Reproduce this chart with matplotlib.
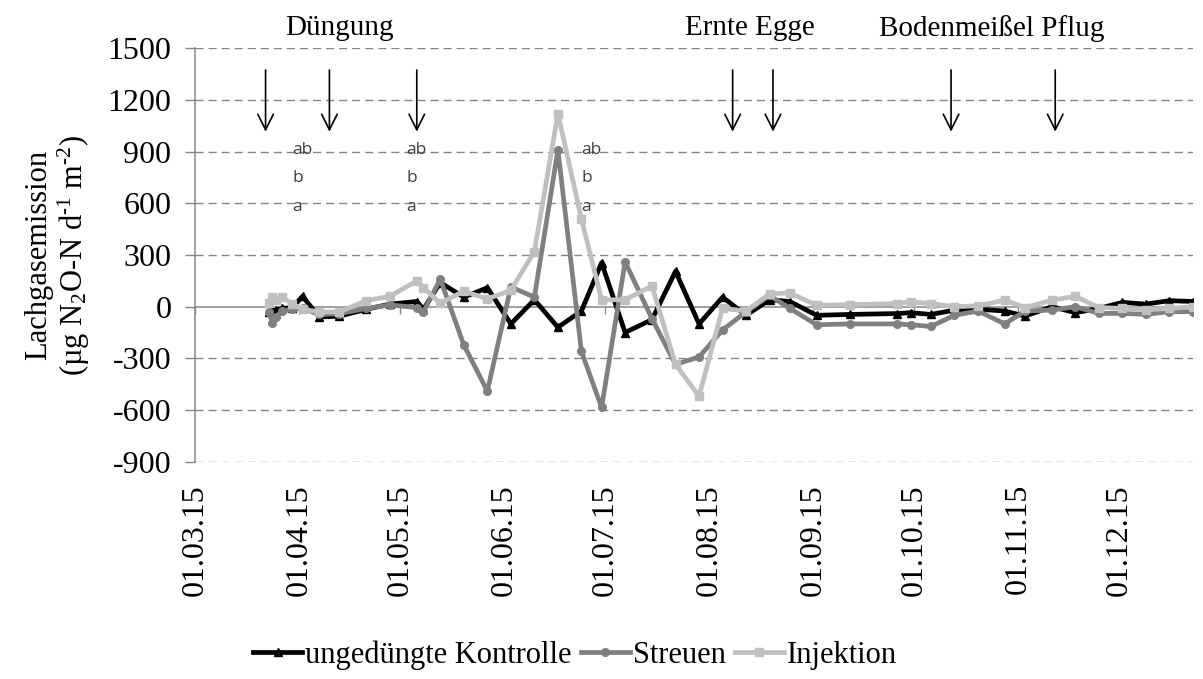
import numpy as np
import pandas as pd
import matplotlib
matplotlib.use("Agg")
import matplotlib.pyplot as plt
import matplotlib.dates as mdates

plt.rcParams["font.family"] = ["Liberation Serif", "DejaVu Serif"]
plt.rcParams["mathtext.fontset"] = "custom"
plt.rcParams["mathtext.rm"] = "Liberation Serif"
plt.rcParams["mathtext.it"] = "Liberation Serif:italic"
plt.rcParams["axes.unicode_minus"] = False

# ---------------- DATA ----------------
dates = pd.to_datetime([
    "2015-03-23", "2015-03-24", "2015-03-25", "2015-03-27", "2015-03-30",
    "2015-04-02", "2015-04-07", "2015-04-13", "2015-04-21", "2015-04-28",
    "2015-05-06", "2015-05-08", "2015-05-13", "2015-05-20", "2015-05-27",
    "2015-06-03", "2015-06-10", "2015-06-17", "2015-06-24", "2015-06-30",
    "2015-07-07", "2015-07-15", "2015-07-22", "2015-07-29", "2015-08-05",
    "2015-08-12", "2015-08-19", "2015-08-25", "2015-09-02", "2015-09-12",
    "2015-09-26", "2015-09-30", "2015-10-06", "2015-10-13", "2015-10-20",
    "2015-10-28", "2015-11-03", "2015-11-11", "2015-11-18", "2015-11-25",
    "2015-12-02", "2015-12-09", "2015-12-16", "2015-12-23",
])

kontrolle = [-30, -25, -20, -10, -5, 60, -60, -55, -15, 15,
             30, -15, 140, 55, 110, -100, 40, -120, -25, 255,
             -150, -75, 205, -100, 55, -50, 40, 30, -50, -45,
             -40, -35, -45, -20, -15, -25, -55, 0, -35, -10,
             25, 15, 35, 30]
streuen = [-30, -95, -60, -25, -15, -10, -45, -40, -10, 10,
           -5, -30, 160, -222, -490, 115, 55, 910, -260, -585,
           260, -70, -335, -292, -135, -30, 65, -10, -105, -100,
           -100, -105, -115, -50, -25, -100, -25, -20, 0, -39,
           -39, -45, -29, -29]
injektion = [20, 55, 40, 55, 15, -15, -30, -30, 35, 60,
             150, 110, 20, 90, 45, 95, 320, 1120, 510, 40,
             40, 120, -335, -520, -10, -25, 75, 80, 8, 12,
             18, 28, 18, 0, 5, 38, -5, 38, 60, -5,
             -10, -18, -10, 0]

series_names = ["ungedüngte Kontrolle", "Streuen", "Injektion"]

# management events (arrows) and their labels
arrow_dates = pd.to_datetime(["2015-03-22", "2015-04-10", "2015-05-06",
                              "2015-08-08", "2015-08-20", "2015-10-12",
                              "2015-11-12"])
event_labels = ["Düngung", "Ernte Egge", "Bodenmeißel Pflug"]
event_label_dates = pd.to_datetime(["2015-04-13", "2015-08-13", "2015-10-24"])

# significance letters after each fertilisation
letter_dates = pd.to_datetime(["2015-03-30", "2015-05-03", "2015-06-24"])
letters = ["ab", "b", "a"]
letter_levels = [910, 745, 580]

month_ticks = pd.date_range("2015-03-01", "2015-12-01", freq="MS")
y_ticks = np.arange(-900, 1501, 300)

# ---------------- FIGURE ----------------
fig = plt.figure(figsize=(12.03, 6.79), dpi=100)
ax = fig.add_axes([195 / 1203, 1 - 461.7 / 679, 998 / 1203, 413.4 / 679])

ax.set_xlim(pd.Timestamp("2015-03-01"), pd.Timestamp("2015-12-23"))
ax.set_ylim(-900, 1500)

grid_col = "#868686"
for yv in y_ticks:
    if yv != 0:
        ax.axhline(yv, color=grid_col, lw=1.0, linestyle=(0, (5.8, 3.6)), zorder=1)
ax.axhline(0, color=grid_col, lw=1.1, zorder=1.5)

ax.plot(dates, kontrolle, color="black", lw=3.4, marker="^", ms=6,
        label=series_names[0], zorder=3)
ax.plot(dates, streuen, color="#808080", lw=3.4, marker="o", ms=5.5,
        label=series_names[1], zorder=4)
ax.plot(dates, injektion, color="#C0C0C0", lw=3.4, marker="s", ms=6,
        label=series_names[2], zorder=5)

# axes styling
for s in ["top", "right", "bottom"]:
    ax.spines[s].set_visible(False)
ax.spines["left"].set_color(grid_col)
ax.spines["left"].set_linewidth(1.1)
ax.set_yticks(y_ticks)
ax.tick_params(axis="y", length=7, width=1.0, color=grid_col, labelsize=23, pad=10)

ax.set_xticks(month_ticks)
ax.xaxis.set_major_formatter(mdates.DateFormatter("%d.%m.%y"))
ax.tick_params(axis="x", length=0, labelsize=23, labelrotation=90, pad=16)

# month tick marks sitting on the zero line
zero_pos = (0 - ax.get_ylim()[0]) / (ax.get_ylim()[1] - ax.get_ylim()[0])
sec = ax.secondary_xaxis(zero_pos)
sec.set_xticks(month_ticks)
sec.set_xticklabels([])
sec.spines["bottom"].set_visible(False)
sec.tick_params(axis="x", direction="out", length=5, width=1.0, color=grid_col)

# event arrows and labels
for d in arrow_dates:
    ax.annotate("", xy=(d, 1000), xytext=(d, 1390), annotation_clip=False,
                arrowprops=dict(arrowstyle="->", color="black", lw=1.2,
                                mutation_scale=28))
for lab, d in zip(event_labels, event_label_dates):
    ax.text(d, 1615, lab, ha="center", va="center", fontsize=21, clip_on=False)

for d in letter_dates:
    for lt, lv in zip(letters, letter_levels):
        ax.text(d, lv, lt, ha="left", va="center", fontsize=12.5,
                family=["Open Sans", "DejaVu Sans"], color="#404040")

ax.set_ylabel("Lachgasemission\n(µg N$_2$O-N d$^{\u2010 1}$ m$^{\u2010 2}$)",
              fontsize=22, linespacing=1.1)
ax.yaxis.set_label_coords(-0.103, 0.5)

fig.legend(loc="center", bbox_to_anchor=(575 / 1203, 1 - 655 / 679), ncol=3,
           frameon=False, fontsize=22, handlelength=1.6, handletextpad=0.1,
           columnspacing=0.3, borderaxespad=0)

fig.savefig("out.png", dpi=100)
